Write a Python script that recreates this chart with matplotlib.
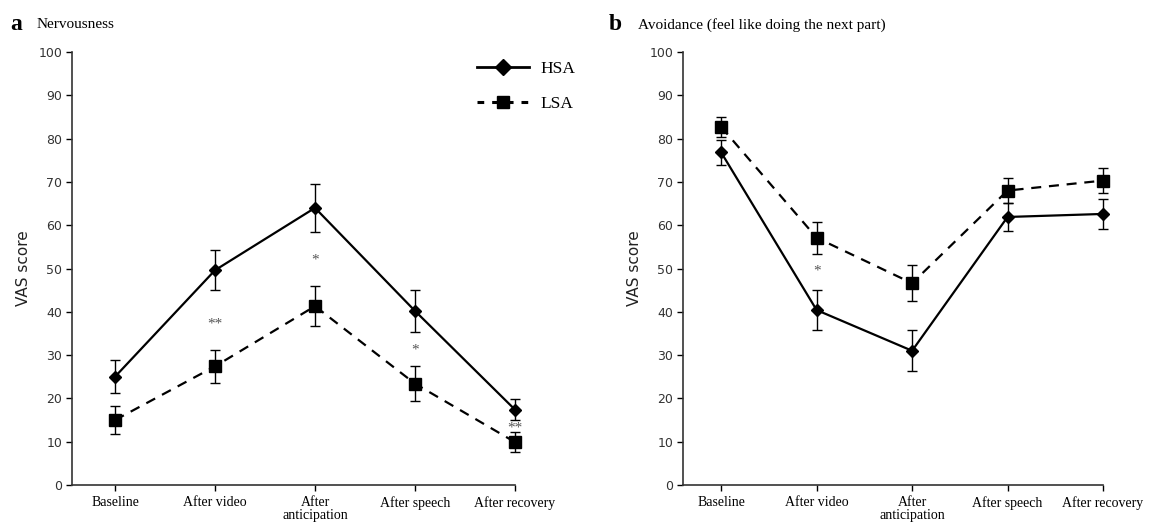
import matplotlib
matplotlib.use("Agg")
import matplotlib.pyplot as plt
from matplotlib.lines import Line2D
import numpy as np

categories = ["Baseline", "After video", "After\nanticipation", "After speech", "After recovery"]

# Panel a: Nervousness
nerv_hsa = [25.0, 49.6, 64.0, 40.2, 17.4]
nerv_hsa_err = [3.8, 4.6, 5.5, 4.8, 2.5]
nerv_lsa = [15.0, 27.4, 41.3, 23.4, 9.9]
nerv_lsa_err = [3.2, 3.8, 4.6, 4.0, 2.3]
nerv_sig = ["", "**", "*", "*", "**"]
nerv_sig_y = [None, 37.2, 52.0, 31.2, 13.1]

# Panel b: Avoidance
avoid_hsa = [76.8, 40.4, 31.0, 61.9, 62.6]
avoid_hsa_err = [2.9, 4.7, 4.7, 3.3, 3.5]
avoid_lsa = [82.7, 57.1, 46.6, 68.0, 70.3]
avoid_lsa_err = [2.4, 3.7, 4.1, 2.8, 2.9]
avoid_sig = ["", "*", "", "", ""]
avoid_sig_y = [None, 49.3, None, None, None]

yticks = list(range(0, 101, 10))

fig = plt.figure(figsize=(11.49, 5.23), dpi=100)
W, H = 1149, 523

def make_ax(left_px, right_px):
    return fig.add_axes([left_px / W, 1 - 485 / H, (right_px - left_px) / W, (485 - 52) / H])

serif = "Liberation Serif"
sans = "DejaVu Sans"
dash = (0, (4.5, 3.5))

def draw(ax, hsa, hsa_err, lsa, lsa_err, sig, sig_y, xleft):
    x = np.arange(len(categories))
    for art in [
        ax.errorbar(x, hsa, yerr=hsa_err, color="black", lw=1.6, marker="D", ms=6.5,
                    capsize=3.5, elinewidth=1.0, capthick=1.0, zorder=3),
        ax.errorbar(x, lsa, yerr=lsa_err, color="black", lw=1.6, marker="s", ms=8,
                    capsize=3.5, elinewidth=1.0, capthick=1.0,
                    linestyle=dash, zorder=3),
    ]:
        for child in art.get_children():
            child.set_clip_on(False)
    for xi, s, sy in zip(x, sig, sig_y):
        if s:
            ax.text(xi, sy, s, ha="center", va="center", fontsize=11, color="#555555",
                    family=serif)
    ax.set_xlim(xleft, 4)
    ax.set_ylim(0, 100)
    ax.set_yticks(yticks)
    ax.set_xticks(x)
    ax.set_xticklabels(categories, family=serif, fontsize=10, linespacing=1.0)
    ax.tick_params(axis="y", direction="out", length=4, width=1, labelsize=9,
                   labelcolor="#333333", pad=3)
    ax.tick_params(axis="x", direction="out", length=4, width=1, pad=4)
    for t in ax.get_yticklabels():
        t.set_family(sans)
    for sp in ["top", "right"]:
        ax.spines[sp].set_visible(False)
    for sp in ["left", "bottom"]:
        ax.spines[sp].set_linewidth(1.2)
        ax.spines[sp].set_color("#333333")
    ax.set_ylabel("VAS score", family=sans, fontsize=11, color="#222222", labelpad=5)

ax1 = make_ax(72, 515)
draw(ax1, nerv_hsa, nerv_hsa_err, nerv_lsa, nerv_lsa_err, nerv_sig, nerv_sig_y, -0.43)
ax2 = make_ax(683, 1103)
draw(ax2, avoid_hsa, avoid_hsa_err, avoid_lsa, avoid_lsa_err, avoid_sig, avoid_sig_y, -0.40)

# legend on panel a
handles = [Line2D([], [], color="black", lw=2, marker="D", ms=8),
           Line2D([], [], color="black", lw=2.2, marker="s", ms=8, linestyle=(0, (2.2, 2.6)))]
leg = ax1.legend(handles, ["HSA", "LSA"], loc="upper left",
                 bbox_to_anchor=((461 - 72) / (515 - 72), 1.015),
                 frameon=False, prop={"family": serif, "size": 12.5}, handlelength=3.0,
                 labelspacing=1.05, handletextpad=0.7)

# panel titles
fig.text(10 / W, 1 - 25 / H, "a", family=serif, fontsize=17, fontweight="bold", va="center")
fig.text(37 / W, 1 - 25 / H, "Nervousness", family=serif, fontsize=11, va="center")
fig.text(609 / W, 1 - 25 / H, "b", family=serif, fontsize=17, fontweight="bold", va="center")
fig.text(638 / W, 1 - 25 / H, "Avoidance (feel like doing the next part)", family=serif,
         fontsize=11, va="center")

fig.savefig("out.png", dpi=100)
